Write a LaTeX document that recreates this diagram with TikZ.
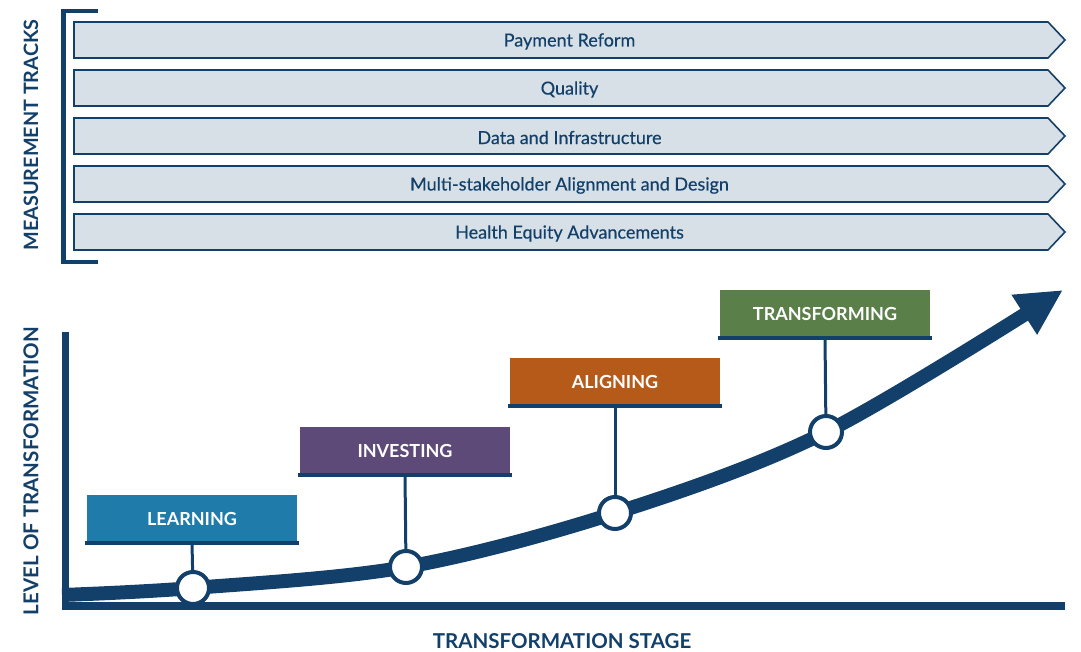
\documentclass[tikz,border=0pt]{standalone}
\usepackage{fontspec}
\setmainfont{Lato}
\newfontfamily\trackfont[FakeBold=0.4]{Lato}
\usetikzlibrary{arrows.meta}
\definecolor{navy}{HTML}{13406A}
\definecolor{trackfill}{HTML}{D6E0E6}
\definecolor{learncol}{HTML}{1F7BAA}
\definecolor{investcol}{HTML}{5E4A78}
\definecolor{aligncol}{HTML}{B65A19}
\definecolor{transcol}{HTML}{5B7F48}
\begin{document}
\begin{tikzpicture}[x=1pt, y=1pt, align=center,
  trackline/.style={draw=navy, fill=trackfill, line width=1.6pt, line join=miter},
  tracktext/.style={text=navy, inner sep=0pt, yshift=-1.5pt, font=\trackfont\fontsize{18}{20}\selectfont},
  stage/.style={fill=#1, minimum width=210pt, minimum height=48pt, inner sep=0pt,
    text=white, font=\bfseries\fontsize{18}{21}\selectfont},
  bar/.style={navy, line width=4pt},
  stem/.style={navy, line width=3pt},
  dot/.style={circle, draw=navy, fill=white, line width=4pt, minimum size=32pt, inner sep=0pt},
  axislabel/.style={text=navy, font=\bfseries\fontsize{20.5}{23}\selectfont}]
\useasboundingbox (0,0) rectangle (1081,652);

\node[axislabel, rotate=90, font=\bfseries\fontsize{19.8}{23}\selectfont] (mtracks) at (31,517) {MEASUREMENT TRACKS};
\draw[navy, line width=4.5pt] (98,641) -- (63.5,641) -- (63.5,390) -- (98,390);
\draw[trackline] (74,594) -- (1048,594) -- (1065,612) -- (1048,630) -- (74,630) -- cycle;
\draw[trackline] (74,546) -- (1048,546) -- (1065,564) -- (1048,582) -- (74,582) -- cycle;
\draw[trackline] (74,498) -- (1048,498) -- (1065,516) -- (1048,534) -- (74,534) -- cycle;
\draw[trackline] (74,450) -- (1048,450) -- (1065,468) -- (1048,486) -- (74,486) -- cycle;
\draw[trackline] (74,402) -- (1048,402) -- (1065,420) -- (1048,438) -- (74,438) -- cycle;
\node[tracktext] (payment) at (569.5,612) {Payment Reform};
\node[tracktext] (quality) at (569.5,564) {Quality};
\node[tracktext] (data) at (569.5,516) {Data and Infrastructure};
\node[tracktext] (multi) at (569.5,468) {Multi-stakeholder Alignment and Design};
\node[tracktext] (equity) at (569.5,420) {Health Equity Advancements};

\node[axislabel, rotate=90] (level) at (31,181) {LEVEL OF TRANSFORMATION};
\node[axislabel] (stagelbl) at (562,11) {TRANSFORMATION STAGE};
\draw[navy, line width=7pt] (65.5,320) -- (65.5,46);
\draw[navy, line width=8pt] (62,46) -- (1065,46);
\draw[navy, line width=14pt, -{Triangle[length=46pt,width=44pt]}]
  plot[smooth, tension=0.55] coordinates {(62,57) (193,64) (406,85) (615,139) (826,220) (1063,362)};

\node[dot] (dlearn) at (193,64) {};
\node[dot] (dinvest) at (406,85) {};
\node[dot] (dalign) at (615,139) {};
\node[dot] (dtrans) at (826,220) {};

\node[stage=learncol, anchor=south] (learn) at (192,109) {LEARNING};
\node[stage=investcol, anchor=south] (invest) at (405,177) {INVESTING};
\node[stage=aligncol, anchor=south] (align) at (615,246) {ALIGNING};
\node[stage=transcol, anchor=south] (trans) at (825,314) {TRANSFORMING};

\draw[bar] ([xshift=-2pt]learn.south west) -- ([xshift=2pt]learn.south east);
\draw[bar] ([xshift=-2pt]invest.south west) -- ([xshift=2pt]invest.south east);
\draw[bar] ([xshift=-2pt]align.south west) -- ([xshift=2pt]align.south east);
\draw[bar] ([xshift=-2pt]trans.south west) -- ([xshift=2pt]trans.south east);
\draw[stem] (learn.south) -- (dlearn);
\draw[stem] (invest.south) -- (dinvest);
\draw[stem] (align.south) -- (dalign);
\draw[stem] (trans.south) -- (dtrans);
\end{tikzpicture}
\end{document}
